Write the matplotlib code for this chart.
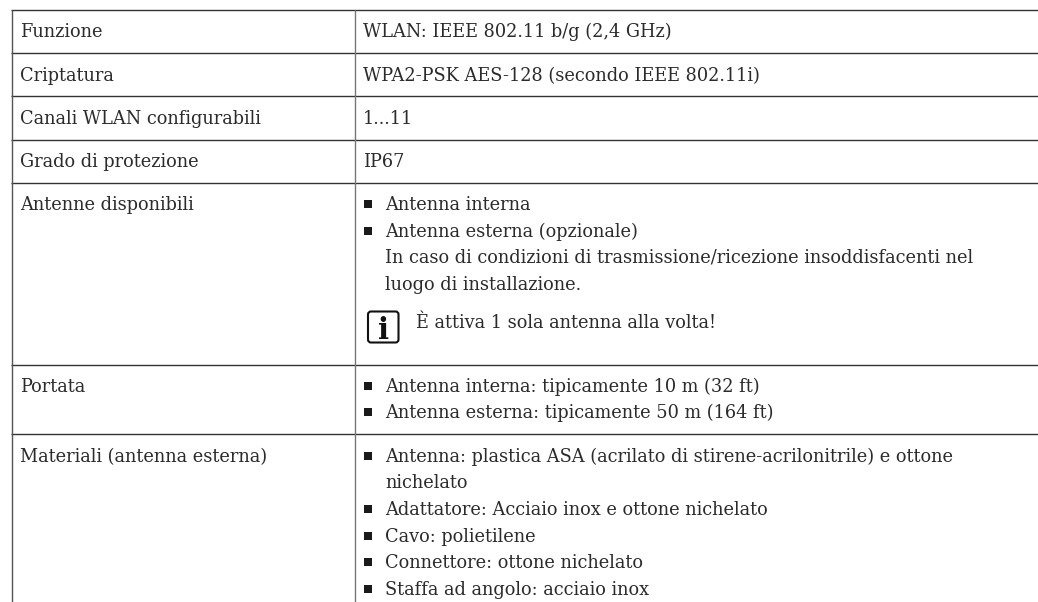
import matplotlib
matplotlib.use("Agg")
import matplotlib.pyplot as plt
from matplotlib.patches import FancyBboxPatch

plt.rcParams["font.family"] = ["DejaVu Serif"]

etichette = ["Funzione", "Criptatura", "Canali WLAN configurabili", "Grado di protezione",
             "Antenne disponibili", "Portata", "Materiali (antenna esterna)"]
valori_semplici = ["WLAN: IEEE 802.11 b/g (2,4 GHz)", "WPA2-PSK AES-128 (secondo IEEE 802.11i)", "1...11", "IP67"]
antenne = ["Antenna interna", "Antenna esterna (opzionale)"]
antenne_nota = ["In caso di condizioni di trasmissione/ricezione insoddisfacenti nel",
                "luogo di installazione."]
avviso = "È attiva 1 sola antenna alla volta!"
portata = ["Antenna interna: tipicamente 10 m (32 ft)", "Antenna esterna: tipicamente 50 m (164 ft)"]
materiali = ["Antenna: plastica ASA (acrilato di stirene-acrilonitrile) e ottone", "nichelato",
             "Adattatore: Acciaio inox e ottone nichelato", "Cavo: polietilene",
             "Connettore: ottone nichelato", "Staffa ad angolo: acciaio inox"]
materiali_puntati = [True, False, True, True, True, True]

# posizioni in pixel della pagina
righe_y = [10, 53, 96, 139.5, 182.5, 364.5, 434]
base_etichette = [37, 81, 124, 167, 210, 392, 462]
base_semplici = [37, 81, 124, 167]
colore = "#2b2b2b"
fs = 12.8

fig = plt.figure(figsize=(10.38, 6.02), dpi=100)
ax = fig.add_axes([0, 0, 1, 1])
ax.set_xlim(0, 1038)
ax.set_ylim(602, 0)
ax.axis("off")

for y in righe_y:
    ax.plot([11, 1038], [y, y], color="#333333", lw=1.0, solid_capstyle="butt")
ax.plot([11.5, 11.5], [10, 602], color="#555555", lw=1.0, solid_capstyle="butt")
ax.plot([354.5, 354.5], [10, 602], color="#777777", lw=1.0, solid_capstyle="butt")


def scrivi(x, y, testo):
    ax.text(x, y, testo, fontsize=fs, color=colore, va="baseline", ha="left")


def punto(y):
    ax.plot([368], [y - 6.5], marker="s", ms=5.2, color="#1a1a1a", mew=0)


for testo, y in zip(etichette, base_etichette):
    scrivi(20, y, testo)
for testo, y in zip(valori_semplici, base_semplici):
    scrivi(363, y, testo)

for testo, y in zip(antenne, [210, 237]):
    punto(y)
    scrivi(385, y, testo)
for testo, y in zip(antenne_nota, [263, 290]):
    scrivi(385, y, testo)

# icona informazioni
ax.add_patch(FancyBboxPatch((368, 311.5), 30.5, 31, boxstyle="round,pad=0,rounding_size=3",
                            fc="white", ec="#111111", lw=1.5))
ax.text(383.5, 339, "i", fontsize=21, fontweight="bold", color="#111111",
        ha="center", va="baseline")
scrivi(416, 328, avviso)

for testo, y in zip(portata, [392, 418]):
    punto(y)
    scrivi(385, y, testo)

for testo, puntato, y in zip(materiali, materiali_puntati, [462, 488, 515, 542, 568, 595]):
    if puntato:
        punto(y)
    scrivi(385, y, testo)

fig.savefig("out.png", dpi=100)
